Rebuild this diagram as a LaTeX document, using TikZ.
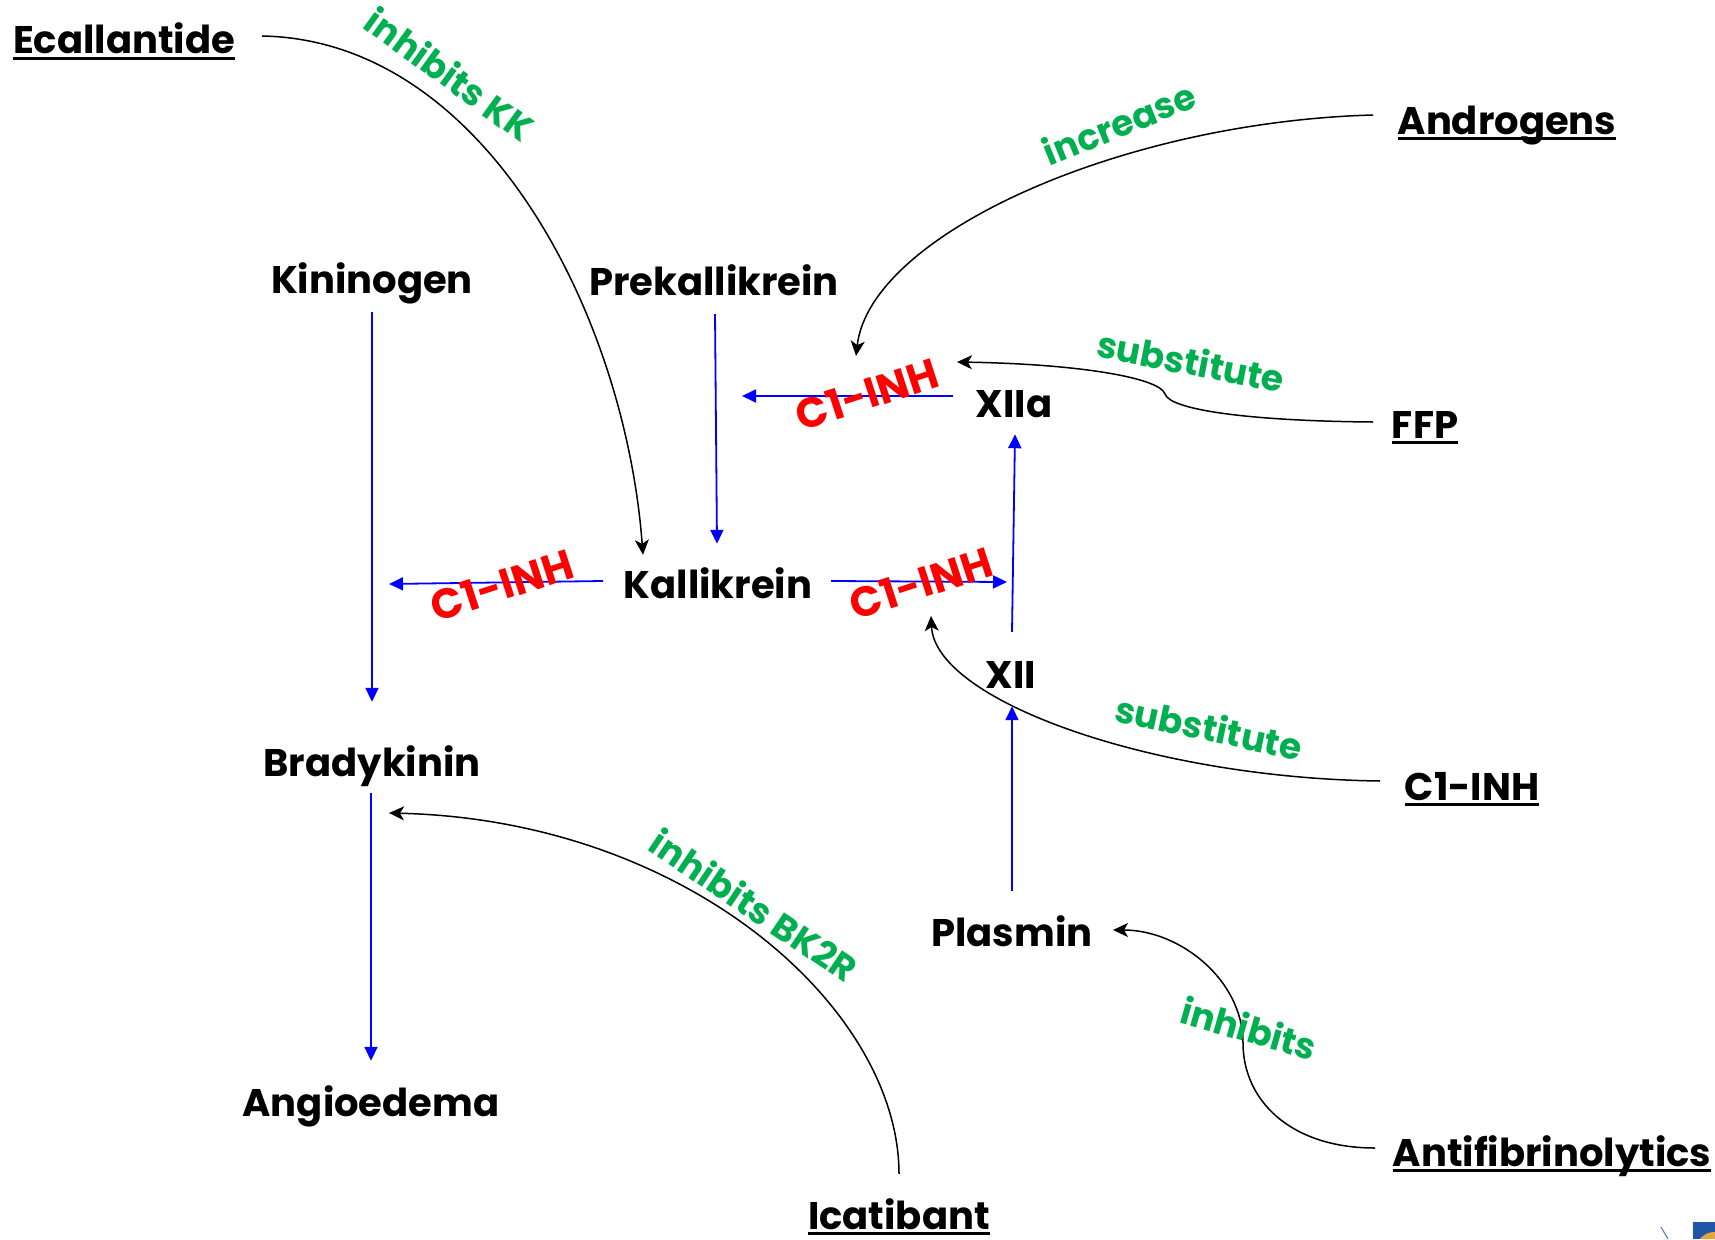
\documentclass[tikz,border=0pt]{standalone}
\usepackage{fontspec}
\setmainfont{Poppins}
\usetikzlibrary{arrows.meta}
\definecolor{hgreen}{HTML}{00B050}
\definecolor{hred}{HTML}{FF0000}
\definecolor{hblue}{HTML}{0000FF}
\definecolor{logoblue}{HTML}{1F56A8}
\definecolor{logoorange}{HTML}{E8A33A}
% underlined drug name with a heavy rule
\newcommand\drugline[1]{\setbox0=\hbox{#1}\rlap{\rule[-6pt]{\wd0}{3pt}}\box0}
\begin{document}
\begin{tikzpicture}[x=1pt,y=-1pt,
  mol/.style={inner sep=0pt, text height=31pt, text depth=0pt, anchor=base,
    font=\fontsize{38.5}{42}\selectfont\bfseries},
  drug/.style={mol},
  act/.style={draw=hblue, line width=1.8pt, -{Triangle[length=14pt,width=13pt]}},
  ctl/.style={draw=black, line width=1.5pt, -{Stealth[length=15pt,width=14pt,inset=4pt]}},
  effect/.style={text=hgreen, anchor=center, inner sep=0pt,
    font=\fontsize{36}{40}\selectfont\bfseries},
  block/.style={text=hred, anchor=center, inner sep=0pt,
    font=\fontsize{42}{44}\selectfont\bfseries}
]
\useasboundingbox (0,0) rectangle (1715,1239);

% cascade members
\node[mol] (kin) at (372,293) {Kininogen};
\node[mol] (prek) at (714,295) {Prekallikrein};
\node[mol] (kal) at (718,598) {Kallikrein};
\node[mol] (xiia) at (1014,417) {XIIa};
\node[mol] (xii) at (1011,688) {XII};
\node[mol] (brady) at (372,776) {Bradykinin};
\node[mol] (angio) at (371,1116) {Angioedema};
\node[mol] (plasmin) at (1012,946) {Plasmin};

% therapies
\node[drug] (ecal) at (124,54) {\drugline{Ecallantide}};
\node[drug] (icat) at (899,1229) {\drugline{Icatibant}};
\node[drug] (andro) at (1507,134) {\drugline{Androgens}};
\node[drug] (ffp) at (1425,438) {\drugline{FFP}};
\node[drug] (c1inh) at (1472,800) {\drugline{C1-INH}};
\node[drug] (antif) at (1552,1166) {\drugline{Antifibrinolytics}};

% free ends of the inhibition arrows
\coordinate (xiiaend) at (742,396);
\coordinate (kalleft) at (389,584);
\coordinate (kalright) at (1007,582);
\coordinate (androend) at (856,356);
\coordinate (c1end) at (931,616);

% activation steps
\draw[act] ([yshift=-19pt]kin.south) -- ([yshift=43pt]brady.north);
\draw[act] ([xshift=1pt,yshift=-19pt]prek.south) -- ([xshift=-1pt,yshift=23pt]kal.north);
\draw[act] ([shift={(-61pt,21pt)}]xiia.base) -- (xiiaend);
\draw[act] ([shift={(-115pt,17pt)}]kal.base) -- (kalleft);
\draw[act] ([shift={(113pt,17pt)}]kal.base) -- (kalright);
\draw[act] ([shift={(1pt,25pt)}]xii.north) -- ([shift={(1pt,-17pt)}]xiia.south);
\draw[act] ([yshift=24pt]plasmin.north) -- ([shift={(1pt,-18pt)}]xii.south);
\draw[act] ([shift={(-1pt,-17pt)}]brady.south) -- ([yshift=24pt]angio.north);

% C1-INH blocks
\node[block, rotate=18] (b1) at (867,394) {C1-INH};
\node[block, rotate=18] (b2) at (502,585) {C1-INH};
\node[block, rotate=18] (b3) at (921,583) {C1-INH};

% therapy links
\draw[ctl] ([shift={(138pt,18pt)}]ecal.base) .. controls (485,40) and (625,315) .. ([shift={(-75pt,12pt)}]kal.north);
\draw[ctl] ([shift={(-134pt,19pt)}]andro.base) .. controls (1120,122) and (870,235) .. (androend);
\draw[ctl] ([shift={(-52pt,16pt)}]ffp.base) .. controls (1250,421) and (1170,410) .. (1165,394)
  .. controls (1160,378) and (1080,364) .. ([shift={(-57pt,55pt)}]xiia.base);
\draw[ctl] ([shift={(-92pt,19pt)}]c1inh.base) .. controls (1150,778) and (935,700) .. (c1end);
\draw[ctl] ([yshift=24pt]icat.north) .. controls (899,1010) and (690,820) .. ([shift={(17pt,-37pt)}]brady.base);
\draw[ctl] ([shift={(-177pt,18pt)}]antif.base) .. controls (1290,1148) and (1243,1100) .. (1243,1043)
  .. controls (1243,980) and (1180,930) .. ([shift={(101pt,16pt)}]plasmin.base);

% effect labels
\node[effect, rotate=-36] (l1) at (450,74) {inhibits KK};
\node[effect, rotate=22] (l2) at (1119,123) {increase};
\node[effect, rotate=-11] (l3) at (1191,361) {substitute};
\node[effect, rotate=-12] (l4) at (1209,727) {substitute};
\node[effect, rotate=-34] (l5) at (754,905) {inhibits BK2R};
\node[effect, rotate=-16] (l6) at (1249,1028) {inhibits};

% corner logo fragment
\fill[logoblue] (1693,1222) rectangle (1715,1239);
\fill[logoorange] (1700,1239) .. controls (1705,1233) and (1710,1232) .. (1715,1232) -- (1715,1239) -- cycle;
\draw[logoblue!70, line width=1.2pt] (1661,1227) -- (1668,1239);
\end{tikzpicture}
\end{document}
